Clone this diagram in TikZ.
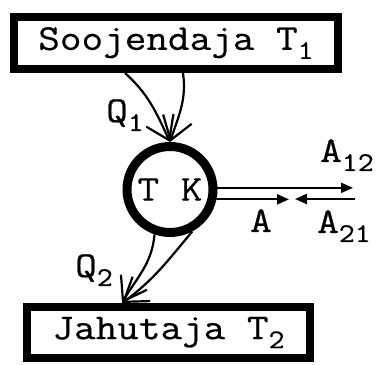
\documentclass[tikz,border=0pt]{standalone}
\usepackage{fontspec}
\newfontfamily\cour[FakeStretch=1.15,FakeBold=0.5]{Latin Modern Mono}
\usetikzlibrary{arrows.meta}
\newcommand\mysub[1]{\raisebox{-9pt}{\fontsize{27}{27}\selectfont #1}}
\tikzset{
  big/.style={font=\cour\fontsize{36.5}{36.5}\selectfont},
  boxnode/.style={big, draw, line width=8pt, inner sep=0pt},
  flow/.style={line width=2.2pt, -{Straight Barb[length=22pt,width=30pt,line width=2.2pt]}},
  work/.style={line width=2.2pt, -{Triangle[length=12pt,width=10pt]}},
  lbl/.style={big, anchor=base west, inner sep=0pt}
}
\begin{document}
\begin{tikzpicture}[x=1pt,y=1pt]
\useasboundingbox (0,0) rectangle (376,365);
\node[boxnode, minimum width=324pt, minimum height=52pt] (hot) at (176,322) {Soojendaja T\mysub{1}};
\node[boxnode, minimum width=283pt, minimum height=51pt] (cold) at (168.5,32.5) {Jahutaja T\mysub{2}};
\node[big, draw, circle, line width=9pt, minimum size=86pt, inner sep=0pt] (tk) at (170,175.5) {T K};

\coordinate (h1) at ([xshift=-51pt]hot.south);
\coordinate (h2) at ([xshift=7pt]hot.south);
\coordinate (c1) at ([xshift=-46.5pt]cold.north);
\draw[flow] (h1) to[out=-42, in=115] (tk.north);
\draw[flow] (h2) to[out=-82, in=72] (tk.north);
\draw[flow] (tk.-109) to[out=-95, in=60] (c1);
\draw[flow] (tk.-62) to[out=-130, in=36] (c1);

\coordinate (e1) at (353,177);
\coordinate (amid) at (289,166);
\coordinate (rend) at (355,166);
\coordinate (a21tip) at (295,166);
\draw[work] (tk.2) -- (tk.2 -| e1);
\draw[work] (tk.-12) -- (tk.-12 -| amid);
\draw[work] (rend) -- (a21tip);

\node[lbl] (q1) at (106,243) {Q\mysub{1}};
\node[lbl] (q2) at (75,88) {Q\mysub{2}};
\node[lbl] (a) at (250,133) {A};
\node[lbl] (a12) at (320,203) {A\mysub{12}};
\node[lbl] (a21) at (317,132) {A\mysub{21}};
\end{tikzpicture}
\end{document}
